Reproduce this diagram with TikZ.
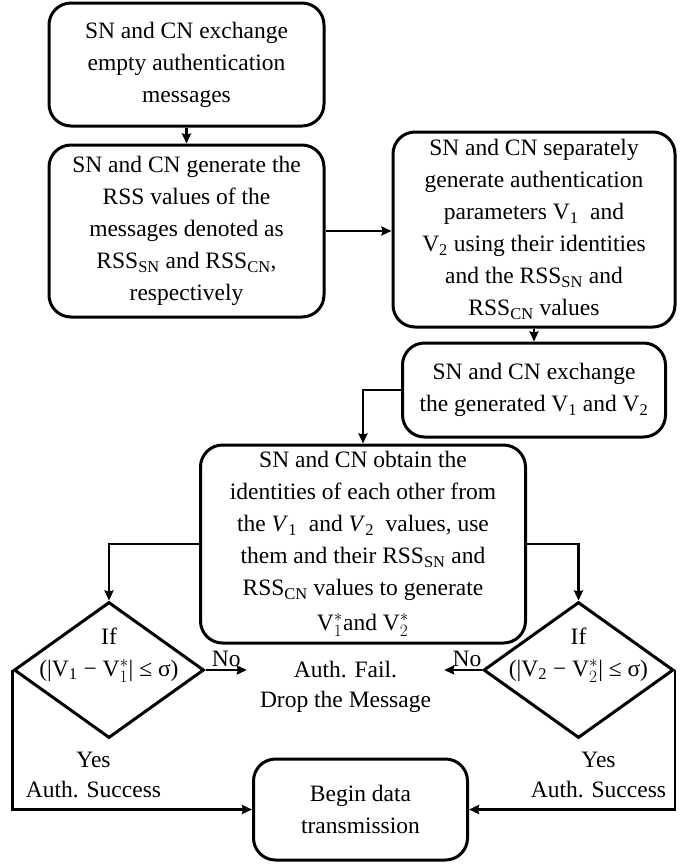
\documentclass[tikz,border=0pt]{standalone}
\usepackage{fontspec}
\setmainfont{Liberation Serif}
\usepackage{tikz}
\usetikzlibrary{shapes.geometric,arrows.meta}
\newcommand{\flowfont}{\fontsize{23.5pt}{32pt}\selectfont}
\newcommand{\labelfont}{\fontsize{23.5pt}{30pt}\selectfont}
\newcommand{\Vstar}[1]{$\mathrm{V}^{*}_{#1}$}
\tikzstyle{stepbox} = [rectangle, rounded corners=22pt, text centered, align=center, draw=black, line width=3pt, inner sep=0pt, font=\flowfont]
\tikzstyle{decision} = [diamond, draw=black, line width=3pt, minimum width=190pt, minimum height=136pt, inner sep=0pt]
\tikzstyle{outcome} = [align=center, font=\labelfont]
\tikzstyle{arrow} = [line width=2.5pt,->,>={Stealth[length=10pt,width=9pt,inset=1pt]}]

\begin{document}
\begin{tikzpicture}[node distance=30pt]
\useasboundingbox (0pt,0pt) rectangle (686pt,-865pt);

\node (exchempty) [stepbox, minimum width=275pt, minimum height=123pt] at (186.5pt,-64.5pt) {SN and CN exchange\\empty authentication\\messages};

\node (genrss) [stepbox, below of=exchempty, yshift=-136.5pt, minimum width=275pt, minimum height=172pt] {SN and CN generate the\\RSS values of the\\messages denoted as\\RSS\textsubscript{SN} and RSS\textsubscript{CN},\\respectively};

\node (genparams) [stepbox, right of=genrss, xshift=317.5pt, yshift=1.5pt, minimum width=282pt, minimum height=195pt] {SN and CN separately\\generate authentication\\parameters V\textsubscript{1}\ \ and\\V\textsubscript{2} using their identities\\and the RSS\textsubscript{SN} and\\RSS\textsubscript{CN} values};

\node (exchparams) [stepbox, below of=genparams, yshift=-130.5pt, minimum width=263pt, minimum height=94pt] {SN and CN exchange\\the generated V\textsubscript{1} and V\textsubscript{2}};

\node (obtainid) [stepbox, below of=exchparams, xshift=-171pt, yshift=-124pt, minimum width=325pt, minimum height=198pt] {SN and CN obtain the\\identities of each other from\\the \textit{V}\textsubscript{1}\ \ and \textit{V}\textsubscript{2}\ \ values, use\\them and their RSS\textsubscript{SN} and\\RSS\textsubscript{CN} values to generate\\[3pt]\Vstar{1}and \Vstar{2}};

\node (checkone) [decision, below of=obtainid, xshift=-254pt, yshift=-96pt,
  label={[outcome, font=\flowfont, yshift=15pt]center:If\\(|V\textsubscript{1} − \Vstar{1}| ≤ σ)}] {};
\node (checktwo) [decision, below of=obtainid, xshift=215.5pt, yshift=-96pt,
  label={[outcome, font=\flowfont, yshift=15pt]center:If\\(|V\textsubscript{2} − \Vstar{2}| ≤ σ)}] {};

\node (authfail) [outcome, below of=obtainid, xshift=-17.5pt, yshift=-113pt, inner xsep=13pt] {Auth. Fail.\\Drop the Message};

\node (yesone) [outcome, below of=checkone, xshift=-15.5pt, yshift=-75pt] {Yes\\Auth. Success};
\node (yestwo) [outcome, below of=checktwo, xshift=20pt, yshift=-75pt] {Yes\\Auth. Success};

\node (begindata) [stepbox, below of=authfail, xshift=15pt, yshift=-92.5pt, minimum width=214pt, minimum height=101pt] {Begin data\\transmission};

\draw [arrow] (exchempty) -- (genrss);
\draw [arrow] (genrss.east) -- (genrss.east -| genparams.west);
\draw [arrow] (genparams.south) -- (genparams.south |- exchparams.north);
\draw [arrow] (exchparams.west) -| (obtainid.north);
\draw [arrow] (obtainid.west) -| (checkone.north);
\draw [arrow] (obtainid.east) -| (checktwo.north);
\draw [arrow] (checkone.east) -- node[above, font=\labelfont, inner sep=2pt] {No} (checkone.east -| authfail.west);
\draw [arrow] (checktwo.west) -- node[above, font=\labelfont, inner sep=2pt, xshift=4pt] {No} (checktwo.west -| authfail.east);
\draw [arrow] (checkone.west) |- (begindata.west);
\draw [arrow] (checktwo.east) |- (begindata.east);

\end{tikzpicture}
\end{document}
